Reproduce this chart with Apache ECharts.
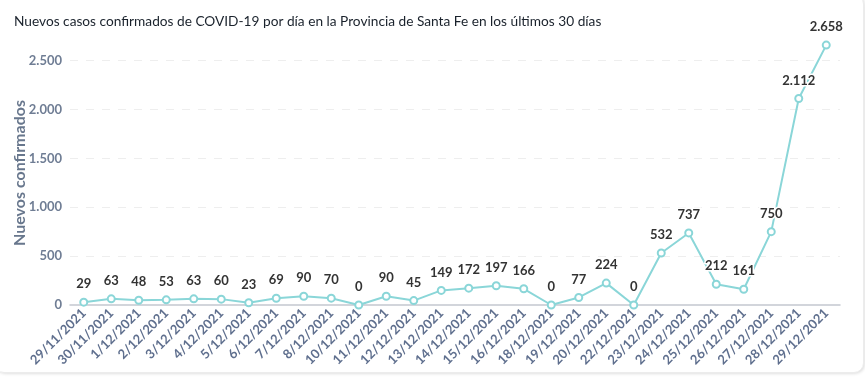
<!DOCTYPE html>
<html>
<head>
<meta charset="utf-8">
<script src="https://cdn.jsdelivr.net/npm/echarts@6/dist/echarts.min.js"></script>
<style>
html,body{margin:0;padding:0;background:#fff;}
#card{position:absolute;left:-6px;top:-6px;width:868px;height:377px;border-radius:10px;box-shadow:1px 1px 3px rgba(0,0,0,0.12);border:1px solid #ececec;background:#fff;}
#chart{position:absolute;left:0;top:0;width:865px;height:392px;}
</style>
</head>
<body>
<div id="card"></div>
<div id="chart"></div>
<script>
const title = "Nuevos casos confirmados de COVID-19 por día en la Provincia de Santa Fe en los últimos 30 días";
const yAxisName = "Nuevos confirmados";
const categories = ["29/11/2021","30/11/2021","1/12/2021","2/12/2021","3/12/2021","4/12/2021","5/12/2021","6/12/2021","7/12/2021","8/12/2021","10/12/2021","11/12/2021","12/12/2021","13/12/2021","14/12/2021","15/12/2021","16/12/2021","18/12/2021","19/12/2021","20/12/2021","22/12/2021","23/12/2021","24/12/2021","25/12/2021","26/12/2021","27/12/2021","28/12/2021","29/12/2021"];
const values = [29,63,48,53,63,60,23,69,90,70,0,90,45,149,172,197,166,0,77,224,0,532,737,212,161,750,2112,2658];

function fmt(v){ return String(v).replace(/\B(?=(\d{3})+(?!\d))/g, "."); }

const chart = echarts.init(document.getElementById('chart'), null, {renderer:'canvas'});
chart.setOption({
  animation:false,
  textStyle:{fontFamily:'Lato'},
  title:{text:title,left:9,top:10,textStyle:{fontFamily:'Lato',fontSize:13.7,fontWeight:'normal',color:'#1a222c'}},
  grid:{left:70,right:25,top:41,bottom:87,outerBoundsMode:'none',containLabel:false},
  xAxis:{type:'category',data:categories,boundaryGap:true,
    axisLine:{lineStyle:{color:'#c4c8cf',width:1.5}},
    axisTick:{show:false},
    axisLabel:{rotate:45,interval:0,color:'#5f6f8e',fontFamily:'Lato',fontWeight:'bold',fontSize:13,margin:6}
  },
  yAxis:{type:'value',min:0,max:2700,interval:500,
    name:yAxisName,nameLocation:'middle',nameGap:42,nameMoveOverlap:false,
    nameTextStyle:{fontFamily:'Lato',fontWeight:'bold',fontSize:16,color:'#68778d'},
    axisLine:{show:false},axisTick:{show:false},
    axisLabel:{showMaxLabel:false,color:'#6f7d94',fontFamily:'Lato',fontWeight:'bold',fontSize:13,margin:8,formatter:fmt},
    splitLine:{showMaxLine:false,showMinLine:false,lineStyle:{color:'#eeeeee',type:[8,8],width:1}}
  },
  series:[{type:'line',data:values,clip:false,
    symbol:'emptyCircle',symbolSize:7,
    lineStyle:{color:'#8ad6d8',width:2},
    itemStyle:{color:'#8ad6d8',borderWidth:2},
    label:{show:true,position:'top',distance:7,formatter:p=>fmt(p.value),
      fontFamily:'Lato',fontWeight:'bold',fontSize:13,color:'#333',
      textBorderColor:'#fff',textBorderWidth:3}
  }]
});
</script>
</body>
</html>
